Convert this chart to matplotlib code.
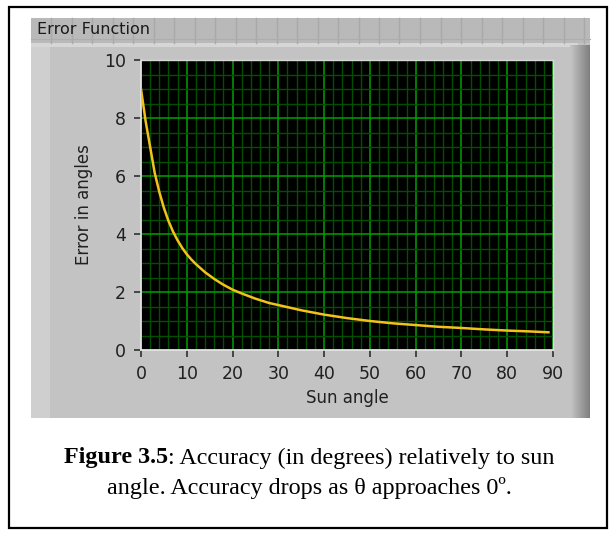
import matplotlib
matplotlib.use("Agg")
import matplotlib.pyplot as plt
from matplotlib.patches import Rectangle
import numpy as np

# ---- data ----
sun_angle = [0, 1, 2, 3, 4, 5, 6, 7, 8, 9, 10, 11, 12, 14, 16, 18, 20, 22, 25, 28, 30,
             35, 40, 45, 50, 55, 60, 65, 70, 75, 80, 85, 89]
error_deg = [9.0, 7.9, 7.0, 6.1, 5.45, 4.9, 4.45, 4.08, 3.78, 3.52, 3.3, 3.12, 2.96,
             2.68, 2.45, 2.25, 2.08, 1.95, 1.77, 1.62, 1.55, 1.37, 1.22, 1.1, 1.0,
             0.92, 0.86, 0.8, 0.76, 0.71, 0.67, 0.64, 0.61]
x_ticks = [0, 10, 20, 30, 40, 50, 60, 70, 80, 90]
y_ticks = [0, 2, 4, 6, 8, 10]

W, H = 615, 536
fig = plt.figure(figsize=(W / 100, H / 100), dpi=100)
fig.patch.set_facecolor("white")

def fx(px):
    return px / W

def fy(py):
    return 1 - py / H

def frect(x0, y0, x1, y1, **kw):
    r = Rectangle((fx(x0), fy(y1)), fx(x1) - fx(x0), fy(y0) - fy(y1),
                  transform=fig.transFigure, **kw)
    fig.patches.append(r)
    return r

# outer black frame
frect(9, 7, 607, 528, facecolor="white", edgecolor="black", linewidth=1.6, zorder=0)

# gray panel
frect(31, 18, 590, 418, facecolor="#c3c3c3", edgecolor="none", zorder=1)
# title bar
frect(31, 18, 590, 43, facecolor="#b9b9b9", edgecolor="none", zorder=2)
for xv in np.arange(51, 590, 20.5):
    fig.add_artist(plt.Line2D([fx(xv), fx(xv)], [fy(18), fy(43)], transform=fig.transFigure,
                              color="#a9a9a9", linewidth=1.0, zorder=3))
fig.add_artist(plt.Line2D([fx(31), fx(590)], [fy(39), fy(39)], transform=fig.transFigure,
                          color="#adadad", linewidth=0.8, zorder=3))
# light band under title
frect(31, 43, 578, 47, facecolor="#d6d6d6", edgecolor="none", zorder=2)
# left lighter strip
frect(31, 47, 50, 418, facecolor="#cfcfcf", edgecolor="none", zorder=2)
# right gradient
n = 20
for i in range(n):
    c = 0.77 - 0.27 * (i / (n - 1))
    frect(570 + i, 45, 571 + i, 418, facecolor=(c, c, c), edgecolor="none", zorder=2)

fig.text(fx(37), fy(30), "Error Function", fontsize=11.5, color="#1a1a1a",
         va="center", ha="left", family="DejaVu Sans", zorder=5)

# plot axes
x0p, x1p, y0p, y1p = 141, 553, 60, 350
ax = fig.add_axes([fx(x0p), fy(y1p), fx(x1p) - fx(x0p), fy(y0p) - fy(y1p)], zorder=6)
ax.set_facecolor("black")
ax.plot(sun_angle, error_deg, color="#f2c21b", linewidth=1.8, solid_joinstyle="miter",
        zorder=5)
ax.set_xlim(0, 90)
ax.set_ylim(0, 10)
ax.set_xticks(x_ticks)
ax.set_yticks(y_ticks)
ax.set_xticks(np.arange(0, 90.1, 2), minor=True)
ax.set_yticks(np.arange(0, 10.1, 0.5), minor=True)
ax.grid(which="minor", color="#005000", linewidth=1.0)
ax.grid(which="major", color="#00a000", linewidth=1.1)
ax.set_axisbelow(True)
ax.tick_params(which="minor", length=0)
ax.tick_params(which="major", direction="out", length=5, width=1.2, color="#303030",
               labelsize=12.5, labelcolor="#202020", pad=6)
for s in ["top", "right"]:
    ax.spines[s].set_color("#d8d8d8")
    ax.spines[s].set_linewidth(1.0)
for s in ["left", "bottom"]:
    ax.spines[s].set_color("#e6e6e6")
    ax.spines[s].set_linewidth(1.2)
ax.set_xlabel("Sun angle", fontsize=12, color="#202020", labelpad=4)
ax.set_ylabel("Error in angles", fontsize=12, color="#202020", labelpad=8)

# caption (bold lead + regular text, centred together)
cap_fs = 17.4
bold_part = "Figure 3.5"
rest_part = ": Accuracy (in degrees) relatively to sun"
renderer = fig.canvas.get_renderer()
tb = fig.text(0, fy(458), bold_part, ha="left", va="center", fontsize=cap_fs,
              family="Liberation Serif", fontweight="bold", zorder=5)
tr = fig.text(0, fy(458), rest_part, ha="left", va="center", fontsize=cap_fs,
              family="Liberation Serif", zorder=5)
wb = tb.get_window_extent(renderer).width / W
wr = tr.get_window_extent(renderer).width / W
start = 0.503 - (wb + wr) / 2
tb.set_x(start)
tr.set_x(start + wb)
fig.text(0.503, fy(488), "angle. Accuracy drops as \u03b8 approaches 0\u00ba.",
         ha="center", va="center", fontsize=cap_fs, family="Liberation Serif", zorder=5)

fig.savefig("out.png", dpi=100, facecolor="white")
